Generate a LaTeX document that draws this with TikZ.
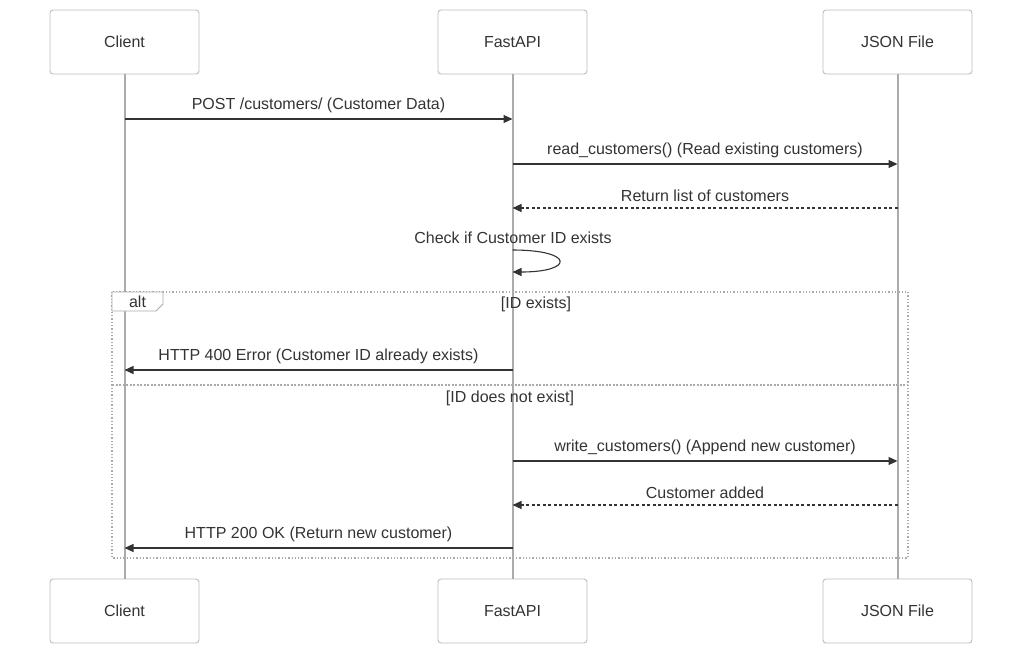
\documentclass[tikz,border=0pt]{standalone}
\usepackage{fontspec}
\setmainfont{Liberation Sans}
\usetikzlibrary{arrows.meta,positioning}
\definecolor{SEQink}{HTML}{333333}
\definecolor{SEQline}{HTML}{ABABAB}
\definecolor{SEQedge}{HTML}{BDBDBD}
\definecolor{SEQalt}{HTML}{AAAAAA}
\tikzset{actorbox/.style={draw=SEQedge,line width=0.9pt,rounded corners=3pt,fill=white,
 minimum width=149pt,minimum height=64pt,text=SEQink,font=\fontsize{16}{19}\selectfont},
 lifeline/.style={draw=SEQline,line width=2pt},
 msgarr/.style={-{Triangle[length=9pt,width=8pt]},draw=SEQink,line width=1.1pt},
 retarr/.style={msgarr,dash pattern=on 3pt off 2.5pt},
 msglabel/.style={text=SEQink,inner sep=0pt,font=\fontsize{16}{19}\selectfont},
 altframe/.style={draw=SEQalt,line width=1.3pt,dotted}}

\begin{document}
\begin{tikzpicture}[x=1pt,y=-1pt]
\useasboundingbox (0,0) rectangle (1024,656);
% participants
\node[actorbox] (client) at (124.5,42) {Client};
\node[actorbox] (api) at (512.5,42) {FastAPI};
\node[actorbox] (json) at (897.5,42) {JSON File};
\node[actorbox] (clientB) at (124.5,611) {Client};
\node[actorbox] (apiB) at (512.5,611) {FastAPI};
\node[actorbox] (jsonB) at (897.5,611) {JSON File};
\draw[lifeline] (client) -- (clientB);
\draw[lifeline] (api) -- (apiB);
\draw[lifeline] (json) -- (jsonB);
% alt frame
\draw[altframe] (112,292) rectangle (908,558);
\draw[altframe,dashed,dash pattern=on 2pt off 1.5pt] (112,385) -- (908,385);
\draw[draw=SEQalt,fill=white,line width=0.8pt] (112,292) -- (163,292) -- (163,304) -- (156,311) -- (112,311) -- cycle;
\node[msglabel] (altlbl) at (137.5,302) {alt};
\node[msglabel] (case1) at (536,304) {[ID exists]};
\node[msglabel] (case2) at (510,398) {[ID does not exist]};
% messages
\draw[msgarr] (client |- 0,119) -- node[msglabel,above=6pt] {POST /customers/ (Customer Data)} (api |- 0,119);
\draw[msgarr] (api |- 0,164) -- node[msglabel,above=6pt] {read\_customers() (Read existing customers)} (json |- 0,164);
\draw[retarr] (json |- 0,208) -- node[msglabel,above=6pt] {Return list of customers} (api |- 0,208);
\node[msglabel] (check) at (513,238) {Check if Customer ID exists};
\draw[msgarr] (api |- 0,250) .. controls +(62,0) and +(62,0) .. (api |- 0,272);
\draw[msgarr] (api |- 0,370) -- node[msglabel,above=6pt] {HTTP 400 Error (Customer ID already exists)} (client |- 0,370);
\draw[msgarr] (api |- 0,461) -- node[msglabel,above=6pt] {write\_customers() (Append new customer)} (json |- 0,461);
\draw[retarr] (json |- 0,505) -- node[msglabel,above=6pt] {Customer added} (api |- 0,505);
\draw[msgarr] (api |- 0,548) -- node[msglabel,above=6pt] {HTTP 200 OK (Return new customer)} (client |- 0,548);
\end{tikzpicture}
\end{document}
